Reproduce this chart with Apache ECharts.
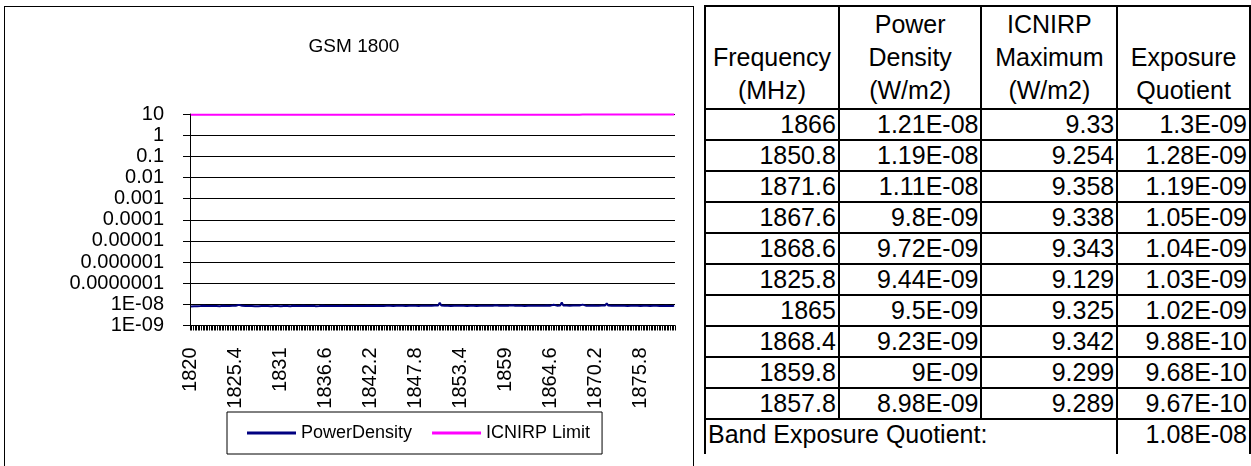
<!DOCTYPE html>
<html>
<head>
<meta charset="utf-8">
<script src="https://cdn.jsdelivr.net/npm/echarts@6/dist/echarts.min.js"></script>
<style>
  html, body { margin:0; padding:0; background:#fff; width:1251px; height:466px; overflow:hidden; }
  #chart { position:absolute; left:0; top:0; width:700px; height:466px; }
  #frame { position:absolute; left:4px; top:6px; width:690px; height:520px; border:1px solid #000; box-sizing:border-box; pointer-events:none; }
  #tbl { position:absolute; left:704px; top:5px; border-collapse:collapse; table-layout:fixed;
         font-family:"Liberation Sans", Arial, sans-serif; font-size:25px; color:#000; }
  #tbl td { border:2px solid #000; padding:0 2px 0 2px; white-space:nowrap; overflow:visible; }
  #tbl tr.hdr td { height:100px; line-height:33px; text-align:center; vertical-align:bottom; padding-bottom:1px; }
  #tbl tr.row td { height:29px; line-height:29px; text-align:right; vertical-align:middle; }
  #tbl tr.band td { height:34px; line-height:29px; vertical-align:top; border-bottom:none; }
  #tbl tr.band td.lbl { text-align:left; }
  #tbl tr.band td.val { text-align:right; }
</style>
</head>
<body>
<div id="chart"></div>
<div id="frame"></div>
<table id="tbl">
  <colgroup><col style="width:134px"><col style="width:143px"><col style="width:136px"><col style="width:133px"></colgroup>
  <tbody id="tbody"></tbody>
</table>
<script>
// ---------- chart data ----------
const chartTitle = 'GSM 1800';
const categories = [
1820,1820,1820.2,1820.4,1820.6,1820.8,
1821,1821.2,1821.4,1821.6,1821.8,1822,1822.2,1822.4,1822.6,1822.8,
1823,1823.2,1823.4,1823.6,1823.8,1824,1824.2,1824.4,1824.6,1824.8,
1825,1825.2,1825.4,1825.6,1825.8,1826,1826.2,1826.4,1826.6,1826.8,
1827,1827.2,1827.4,1827.6,1827.8,1828,1828.2,1828.4,1828.6,1828.8,
1829,1829.2,1829.4,1829.6,1829.8,1830,1830.2,1830.4,1830.6,1830.8,
1831,1831.2,1831.4,1831.6,1831.8,1832,1832.2,1832.4,1832.6,1832.8,
1833,1833.2,1833.4,1833.6,1833.8,1834,1834.2,1834.4,1834.6,1834.8,
1835,1835.2,1835.4,1835.6,1835.8,1836,1836.2,1836.4,1836.6,1836.8,
1837,1837.2,1837.4,1837.6,1837.8,1838,1838.2,1838.4,1838.6,1838.8,
1839,1839.2,1839.4,1839.6,1839.8,1840,1840.2,1840.4,1840.6,1840.8,
1841,1841.2,1841.4,1841.6,1841.8,1842,1842.2,1842.4,1842.6,1842.8,
1843,1843.2,1843.4,1843.6,1843.8,1844,1844.2,1844.4,1844.6,1844.8,
1845,1845.2,1845.4,1845.6,1845.8,1846,1846.2,1846.4,1846.6,1846.8,
1847,1847.2,1847.4,1847.6,1847.8,1848,1848.2,1848.4,1848.6,1848.8,
1849,1849.2,1849.4,1849.6,1849.8,1850,1850.2,1850.4,1850.6,1850.8,
1851,1851.2,1851.4,1851.6,1851.8,1852,1852.2,1852.4,1852.6,1852.8,
1853,1853.2,1853.4,1853.6,1853.8,1854,1854.2,1854.4,1854.6,1854.8,
1855,1855.2,1855.4,1855.6,1855.8,1856,1856.2,1856.4,1856.6,1856.8,
1857,1857.2,1857.4,1857.6,1857.8,1858,1858.2,1858.4,1858.6,1858.8,
1859,1859.2,1859.4,1859.6,1859.8,1860,1860.2,1860.4,1860.6,1860.8,
1861,1861.2,1861.4,1861.6,1861.8,1862,1862.2,1862.4,1862.6,1862.8,
1863,1863.2,1863.4,1863.6,1863.8,1864,1864.2,1864.4,1864.6,1864.8,
1865,1865.2,1865.4,1865.6,1865.8,1866,1866.2,1866.4,1866.6,1866.8,
1867,1867.2,1867.4,1867.6,1867.8,1868,1868.2,1868.4,1868.6,1868.8,
1869,1869.2,1869.4,1869.6,1869.8,1870,1870.2,1870.4,1870.6,1870.8,
1871,1871.2,1871.4,1871.6,1871.8,1872,1872.2,1872.4,1872.6,1872.8,
1873,1873.2,1873.4,1873.6,1873.8,1874,1874.2,1874.4,1874.6,1874.8,
1875,1875.2,1875.4,1875.6,1875.8,1876,1876.2,1876.4,1876.6,1876.8,
1877,1877.2,1877.4,1877.6,1877.8,1878,1878.2,1878.4,1878.6,1878.8,
1879,1879.2,1879.4,1879.6,1879.8,1880
];
const powerDensity = [
7.9e-9,8.0e-9,8.1e-9,8.3e-9,8.2e-9,8.4e-9,8.3e-9,8.2e-9,8.5e-9,8.4e-9,
8.3e-9,8.2e-9,8.4e-9,8.5e-9,8.3e-9,8.2e-9,8.3e-9,8.4e-9,8.2e-9,8.3e-9,
8.5e-9,8.4e-9,8.3e-9,8.2e-9,8.4e-9,8.6e-9,8.5e-9,8.4e-9,8.6e-9,8.7e-9,
9.44e-9,8.6e-9,8.5e-9,8.4e-9,8.3e-9,8.5e-9,8.4e-9,8.2e-9,8.3e-9,8.4e-9,
8.2e-9,8.3e-9,8.1e-9,8.3e-9,8.4e-9,8.2e-9,8.3e-9,8.2e-9,8.4e-9,8.3e-9,
8.2e-9,8.4e-9,8.3e-9,8.5e-9,8.4e-9,8.3e-9,8.2e-9,8.4e-9,8.3e-9,8.2e-9,
8.3e-9,8.4e-9,8.2e-9,8.3e-9,8.5e-9,8.4e-9,8.3e-9,8.2e-9,8.3e-9,8.4e-9,
8.5e-9,8.3e-9,8.4e-9,8.2e-9,8.3e-9,8.4e-9,8.5e-9,8.3e-9,8.2e-9,8.4e-9,
8.3e-9,8.4e-9,8.5e-9,8.3e-9,8.4e-9,8.2e-9,8.3e-9,8.5e-9,8.4e-9,8.3e-9,
8.4e-9,8.5e-9,8.3e-9,8.4e-9,8.6e-9,8.4e-9,8.3e-9,8.5e-9,8.4e-9,8.3e-9,
8.4e-9,8.3e-9,8.5e-9,8.4e-9,8.3e-9,8.2e-9,8.4e-9,8.5e-9,8.3e-9,8.4e-9,
8.5e-9,8.4e-9,8.3e-9,8.5e-9,8.4e-9,8.6e-9,8.5e-9,8.4e-9,8.3e-9,8.5e-9,
8.4e-9,8.5e-9,8.6e-9,8.4e-9,8.5e-9,8.3e-9,8.4e-9,8.5e-9,8.6e-9,8.4e-9,
8.5e-9,8.4e-9,8.6e-9,8.5e-9,8.4e-9,8.6e-9,8.5e-9,8.7e-9,8.5e-9,8.6e-9,
8.5e-9,8.6e-9,8.4e-9,8.5e-9,8.7e-9,8.6e-9,8.5e-9,8.7e-9,8.6e-9,8.8e-9,
8.6e-9,8.7e-9,8.8e-9,8.7e-9,8.9e-9,1.19e-8,8.8e-9,8.6e-9,8.7e-9,8.5e-9,
8.6e-9,8.5e-9,8.4e-9,8.6e-9,8.5e-9,8.4e-9,8.6e-9,8.5e-9,8.7e-9,8.6e-9,
8.5e-9,8.6e-9,8.4e-9,8.5e-9,8.6e-9,8.7e-9,8.5e-9,8.6e-9,8.4e-9,8.5e-9,
8.6e-9,8.5e-9,8.7e-9,8.6e-9,8.5e-9,8.4e-9,8.6e-9,8.7e-9,8.5e-9,8.7e-9,
8.98e-9,8.7e-9,8.6e-9,8.5e-9,8.6e-9,8.7e-9,8.5e-9,8.6e-9,8.7e-9,8.8e-9,
9.0e-9,8.7e-9,8.6e-9,8.5e-9,8.7e-9,8.6e-9,8.5e-9,8.6e-9,8.4e-9,8.6e-9,
8.5e-9,8.7e-9,8.6e-9,8.5e-9,8.6e-9,8.4e-9,8.5e-9,8.7e-9,8.6e-9,8.5e-9,
8.6e-9,8.7e-9,8.8e-9,8.6e-9,8.7e-9,8.8e-9,9.5e-9,8.8e-9,8.7e-9,8.9e-9,
8.8e-9,1.21e-8,8.9e-9,8.7e-9,8.8e-9,8.6e-9,8.7e-9,8.8e-9,8.9e-9,9.8e-9,
8.8e-9,8.7e-9,8.9e-9,9.23e-9,9.72e-9,8.9e-9,8.7e-9,8.8e-9,8.6e-9,8.7e-9,
8.8e-9,8.6e-9,8.7e-9,8.5e-9,8.6e-9,8.7e-9,8.8e-9,8.6e-9,8.9e-9,1.11e-8,
8.8e-9,8.7e-9,8.6e-9,8.7e-9,8.5e-9,8.6e-9,8.7e-9,8.5e-9,8.6e-9,8.4e-9,
8.5e-9,8.6e-9,8.4e-9,8.5e-9,8.6e-9,8.4e-9,8.5e-9,8.3e-9,8.5e-9,8.6e-9,
8.4e-9,8.5e-9,8.6e-9,8.4e-9,8.5e-9,8.3e-9,8.4e-9,8.6e-9,8.5e-9,8.4e-9,
8.5e-9,8.6e-9,8.4e-9,8.5e-9,8.3e-9,8.4e-9,8.5e-9,8.6e-9,8.4e-9,8.5e-9,
8.4e-9,8.5e-9
];
const icnirpLimit = [
9.100,
9.100,9.101,9.102,9.103,9.104,9.105,9.106,9.107,9.108,9.109,
9.110,9.111,9.112,9.113,9.114,9.115,9.116,9.117,9.118,9.119,
9.120,9.121,9.122,9.123,9.124,9.125,9.126,9.127,9.128,9.129,
9.130,9.131,9.132,9.133,9.134,9.135,9.136,9.137,9.138,9.139,
9.140,9.141,9.142,9.143,9.144,9.145,9.146,9.147,9.148,9.149,
9.150,9.151,9.152,9.153,9.154,9.155,9.156,9.157,9.158,9.159,
9.160,9.161,9.162,9.163,9.164,9.165,9.166,9.167,9.168,9.169,
9.170,9.171,9.172,9.173,9.174,9.175,9.176,9.177,9.178,9.179,
9.180,9.181,9.182,9.183,9.184,9.185,9.186,9.187,9.188,9.189,
9.190,9.191,9.192,9.193,9.194,9.195,9.196,9.197,9.198,9.199,
9.200,9.201,9.202,9.203,9.204,9.205,9.206,9.207,9.208,9.209,
9.210,9.211,9.212,9.213,9.214,9.215,9.216,9.217,9.218,9.219,
9.220,9.221,9.222,9.223,9.224,9.225,9.226,9.227,9.228,9.229,
9.230,9.231,9.232,9.233,9.234,9.235,9.236,9.237,9.238,9.239,
9.240,9.241,9.242,9.243,9.244,9.245,9.246,9.247,9.248,9.249,
9.250,9.251,9.252,9.253,9.254,9.255,9.256,9.257,9.258,9.259,
9.260,9.261,9.262,9.263,9.264,9.265,9.266,9.267,9.268,9.269,
9.270,9.271,9.272,9.273,9.274,9.275,9.276,9.277,9.278,9.279,
9.280,9.281,9.282,9.283,9.284,9.285,9.286,9.287,9.288,9.289,
9.290,9.291,9.292,9.293,9.294,9.295,9.296,9.297,9.298,9.299,
9.300,9.301,9.302,9.303,9.304,9.305,9.306,9.307,9.308,9.309,
9.310,9.311,9.312,9.313,9.314,9.315,9.316,9.317,9.318,9.319,
9.320,9.321,9.322,9.323,9.324,9.325,9.326,9.327,9.328,9.329,
9.330,9.331,9.332,9.333,9.334,9.335,9.336,9.337,9.338,9.339,
9.340,9.341,9.342,9.343,9.344,9.345,9.346,9.347,9.348,9.349,
9.350,9.351,9.352,9.353,9.354,9.355,9.356,9.357,9.358,9.359,
9.360,9.361,9.362,9.363,9.364,9.365,9.366,9.367,9.368,9.369,
9.370,9.371,9.372,9.373,9.374,9.375,9.376,9.377,9.378,9.379,
9.380,9.381,9.382,9.383,9.384,9.385,9.386,9.387,9.388,9.389,
9.390,9.391,9.392,9.393,9.394,9.395,9.396,9.397,9.398,9.399,
9.400
];
// y tick labels, indexed by exponent + 9 (1E-09 .. 10)
const yTickLabels = ['1E-09','1E-08','0.0000001','0.000001','0.00001','0.0001','0.001','0.01','0.1','1','10'];
const seriesNames = ['PowerDensity','ICNIRP Limit'];

// ---------- table data ----------
const tableHeaders = [['Frequency','(MHz)'],['Power','Density','(W/m2)'],['ICNIRP','Maximum','(W/m2)'],['Exposure','Quotient']];
const tableFreq = ['1866','1850.8','1871.6','1867.6','1868.6','1825.8','1865','1868.4','1859.8','1857.8'];
const tablePD   = ['1.21E-08','1.19E-08','1.11E-08','9.8E-09','9.72E-09','9.44E-09','9.5E-09','9.23E-09','9E-09','8.98E-09'];
const tableMax  = ['9.33','9.254','9.358','9.338','9.343','9.129','9.325','9.342','9.299','9.289'];
const tableEQ   = ['1.3E-09','1.28E-09','1.19E-09','1.05E-09','1.04E-09','1.03E-09','1.02E-09','9.88E-10','9.68E-10','9.67E-10'];
const bandLabel = 'Band Exposure Quotient:';
const bandEQ = '1.08E-08';

// ---------- build table ----------
(function(){
  const tb = document.getElementById('tbody');
  let h = '<tr class="hdr">' + tableHeaders.map(c => '<td>' + c.join('<br>') + '</td>').join('') + '</tr>';
  for (let i = 0; i < tableFreq.length; i++) {
    h += '<tr class="row"><td>' + tableFreq[i] + '</td><td>' + tablePD[i] + '</td><td>' + tableMax[i] + '</td><td>' + tableEQ[i] + '</td></tr>';
  }
  h += '<tr class="band"><td class="lbl" colspan="3">' + bandLabel + '</td><td class="val">' + bandEQ + '</td></tr>';
  tb.innerHTML = h;
})();

// ---------- chart ----------
const chart = echarts.init(document.getElementById('chart'), null, {renderer:'canvas'});
const FONT = '"Liberation Sans", Arial, sans-serif';
chart.setOption({
  animation: false,
  textStyle: { fontFamily: FONT, color: '#000' },
  title: {
    text: chartTitle, left: 349, top: 32, textAlign: 'center',
    textStyle: { fontFamily: FONT, fontSize: 19, fontWeight: 'normal', color: '#000' }
  },
  grid: { left: 190, top: 114, width: 485, height: 211.5, containLabel: false },
  legend: {
    data: seriesNames, left: 227, top: 412, orient: 'horizontal',
    icon: 'rect', itemWidth: 49, itemHeight: 3, itemGap: 20,
    borderColor: '#000', borderWidth: 1, padding: [12, 12, 12, 20],
    textStyle: { fontFamily: FONT, fontSize: 18, color: '#000' }
  },
  xAxis: {
    type: 'category', data: categories, boundaryGap: true,
    axisLine: { lineStyle: { color: '#000', width: 1 } },
    axisTick: { show: true, interval: 0, length: 5, lineStyle: { color: '#000', width: 1 } },
    axisLabel: { interval: 27, rotate: 90, fontFamily: FONT, fontSize: 20, color: '#000', margin: 22 },
    splitLine: { show: false }
  },
  yAxis: {
    type: 'log', logBase: 10, min: 1e-9, max: 10, interval: 1, splitNumber: 10,
    axisLine: { show: true, lineStyle: { color: '#000', width: 1 } },
    axisTick: { show: true, length: 7, lineStyle: { color: '#000' } },
    axisLabel: {
      fontFamily: FONT, fontSize: 20, color: '#000', margin: 26,
      formatter: function (v) {
        const e = Math.round(Math.log10(v));
        return yTickLabels[e + 9] !== undefined ? yTickLabels[e + 9] : '';
      }
    },
    splitLine: { show: true, lineStyle: { color: '#000', width: 1 } }
  },
  series: [
    { name: seriesNames[0], type: 'line', data: powerDensity, symbol: 'none',
      lineStyle: { color: '#000080', width: 2 }, itemStyle: { color: '#000080' } },
    { name: seriesNames[1], type: 'line', data: icnirpLimit, symbol: 'none',
      lineStyle: { color: '#FF00FF', width: 2 }, itemStyle: { color: '#FF00FF' } }
  ]
});
</script>
</body>
</html>
